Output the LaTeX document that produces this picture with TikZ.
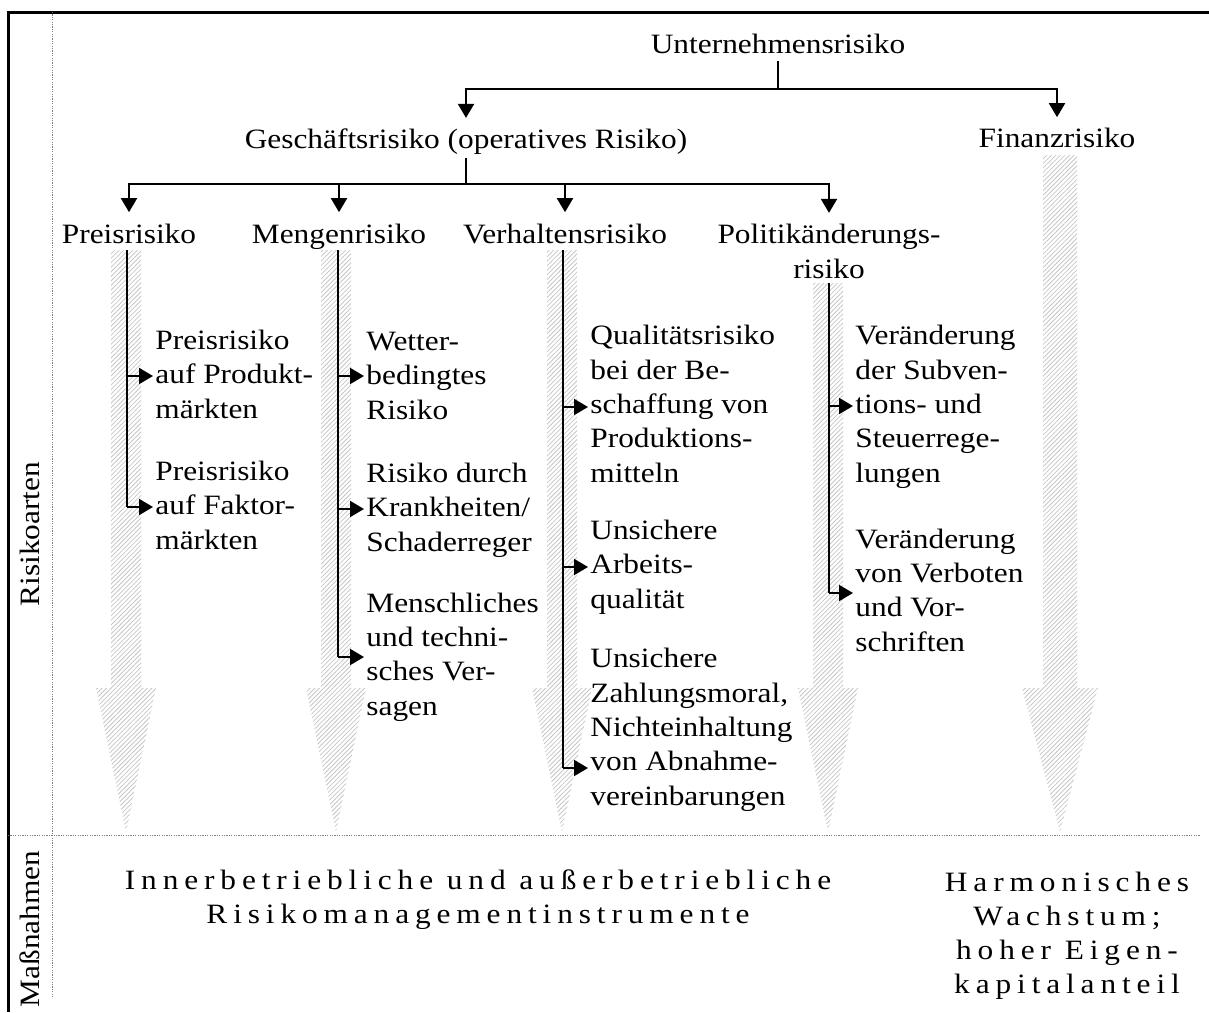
\documentclass[tikz,border=0pt]{standalone}
\usepackage{fontspec}
\setmainfont{Liberation Serif}[FakeStretch=1.12]
\usetikzlibrary{arrows.meta,patterns.meta}
\newcommand\hatcharrow[4]{% center x, top y, shaft half width, head half width
  \fill[hatch] ({#1-#3},#2) -- ({#1+#3},#2) -- ({#1+#3},688) -- ({#1+#4},688)
    -- (#1,832) -- ({#1-#4},688) -- ({#1-#3},688) -- cycle;}
\begin{document}
\begin{tikzpicture}[x=0.5pt,y=-0.5pt,
  conn/.style={line width=1pt},
  arr/.style={line width=1pt,-{Triangle[length=7pt,width=8pt]}},
  lbl/.style={inner sep=0pt,font=\fontsize{14}{17.15}\selectfont},
  item/.style={inner xsep=1pt,inner ysep=0pt,align=left,anchor=base west,font=\fontsize{14}{17.15}\selectfont},
  spaced/.style={inner sep=0pt,align=center,anchor=base,font=\fontsize{14}{16.9}\selectfont\addfontfeature{LetterSpace=21}},
  hatch/.style={pattern={Lines[angle=45,distance=1.6pt,line width=0.4pt]},pattern color=gray!45},
  frameline/.style={line width=1.5pt},
  sep/.style={line width=0.5pt,gray,dash pattern=on 0.6pt off 0.6pt}]
\useasboundingbox (0,0) rectangle (1209,1012);

% frame and separators
\draw[frameline] (8,1012) -- (8,12) -- (1209,12);
\draw[sep] (52,12) -- (52,997);
\draw[sep] (8,835) -- (1200,835);

% side labels
\node[lbl,rotate=90] (RA) at (30,534) {Risikoarten};
\node[lbl,rotate=90] (MN) at (30,929) {Maßnahmen};

% hatched arrows
\hatcharrow{126}{250}{15}{30}
\hatcharrow{336}{250}{15}{30}
\hatcharrow{562}{250}{15}{30}
\hatcharrow{828}{283}{15}{30}
\hatcharrow{1060}{155}{17}{38}

% hierarchy labels
\node[lbl,anchor=base] (U) at (778,53) {Unternehmensrisiko};
\node[lbl,anchor=base] (G) at (466,148) {Geschäftsrisiko (operatives Risiko)};
\node[lbl,anchor=base] (F) at (1057,147) {Finanzrisiko};
\node[lbl,anchor=base] (P) at (129,243) {Preisrisiko};
\node[lbl,anchor=base] (M) at (339,243) {Mengenrisiko};
\node[lbl,anchor=base] (V) at (565,243) {Verhaltensrisiko};
\node[lbl,anchor=base,align=center] (Pol) at (829,278) {Politikänderungs-\\risiko};

\coordinate (uj) at (778,89);
\coordinate (gj) at (466,184);
\draw[conn] ([yshift=-3.5pt]U.south) -- (uj);
\draw[arr] (uj) -| ([yshift=5pt]G.north);
\draw[arr] (uj) -| ([yshift=5pt]F.north);
\draw[conn] ([yshift=-2pt]G.south) -- (gj);
\draw[arr] (gj) -| ([yshift=5.5pt]P.north);
\draw[arr] (gj) -| ([yshift=5.5pt]M.north);
\draw[arr] (gj) -| ([yshift=5.5pt]V.north);
\draw[arr] (gj) -| ([yshift=5.5pt]Pol.north);

% items (base = baseline of last line)
\node[item] (P1) at (153,418) {Preisrisiko\\auf Produkt-\\märkten};
\node[item] (P2) at (153,549) {Preisrisiko\\auf Faktor-\\märkten};
\node[item] (M1) at (364,419) {Wetter-\\bedingtes\\Risiko};
\node[item] (M2) at (364,551) {Risiko durch\\Krankheiten/\\Schaderreger};
\node[item] (M3) at (364,715) {Menschliches\\und techni-\\sches Ver-\\sagen};
\node[item] (V1) at (588,482) {Qualitätsrisiko\\bei der Be-\\schaffung von\\Produktions-\\mitteln};
\node[item] (V2) at (588,608) {Unsichere\\Arbeits-\\qualität};
\node[item] (V3) at (588,805) {Unsichere\\Zahlungsmoral,\\Nichteinhaltung\\von Abnahme-\\vereinbarungen};
\node[item] (O1) at (853,482) {Veränderung\\der Subven-\\tions- und\\Steuerrege-\\lungen};
\node[item] (O2) at (853,651) {Veränderung\\von Verboten\\und Vor-\\schriften};

% branch lines
\coordinate (p0) at (127,250); \coordinate (p1) at (127,376); \coordinate (p2) at (127,507);
\coordinate (m0) at (338,250); \coordinate (m1) at (338,376); \coordinate (m2) at (338,509); \coordinate (m3) at (338,657);
\coordinate (v0) at (563,250); \coordinate (v1) at (563,407); \coordinate (v2) at (563,567); \coordinate (v3) at (563,768);
\coordinate (o0) at (829,283); \coordinate (o1) at (829,406); \coordinate (o2) at (829,593);

\draw[conn] (p0) -- (p2);
\draw[conn] (m0) -- (m3);
\draw[conn] (v0) -- (v3);
\draw[conn] (o0) -- (o2);
\draw[arr] (p1) -- (p1 -| P1.west);
\draw[arr] (p2) -- (p2 -| P2.west);
\draw[arr] (m1) -- (m1 -| M1.west);
\draw[arr] (m2) -- (m2 -| M2.west);
\draw[arr] (m3) -- (m3 -| M3.west);
\draw[arr] (v1) -- (v1 -| V1.west);
\draw[arr] (v2) -- (v2 -| V2.west);
\draw[arr] (v3) -- (v3 -| V3.west);
\draw[arr] (o1) -- (o1 -| O1.west);
\draw[arr] (o2) -- (o2 -| O2.west);

% measures (base = baseline of last line)
\node[spaced] (IM) at (478,923) {Innerbetriebliche und außerbetriebliche\\Risikomanagementinstrumente};
\node[spaced] (HW) at (1067,993) {Harmonisches\\Wachstum;\\hoher Eigen-\\kapitalanteil};
\end{tikzpicture}
\end{document}
